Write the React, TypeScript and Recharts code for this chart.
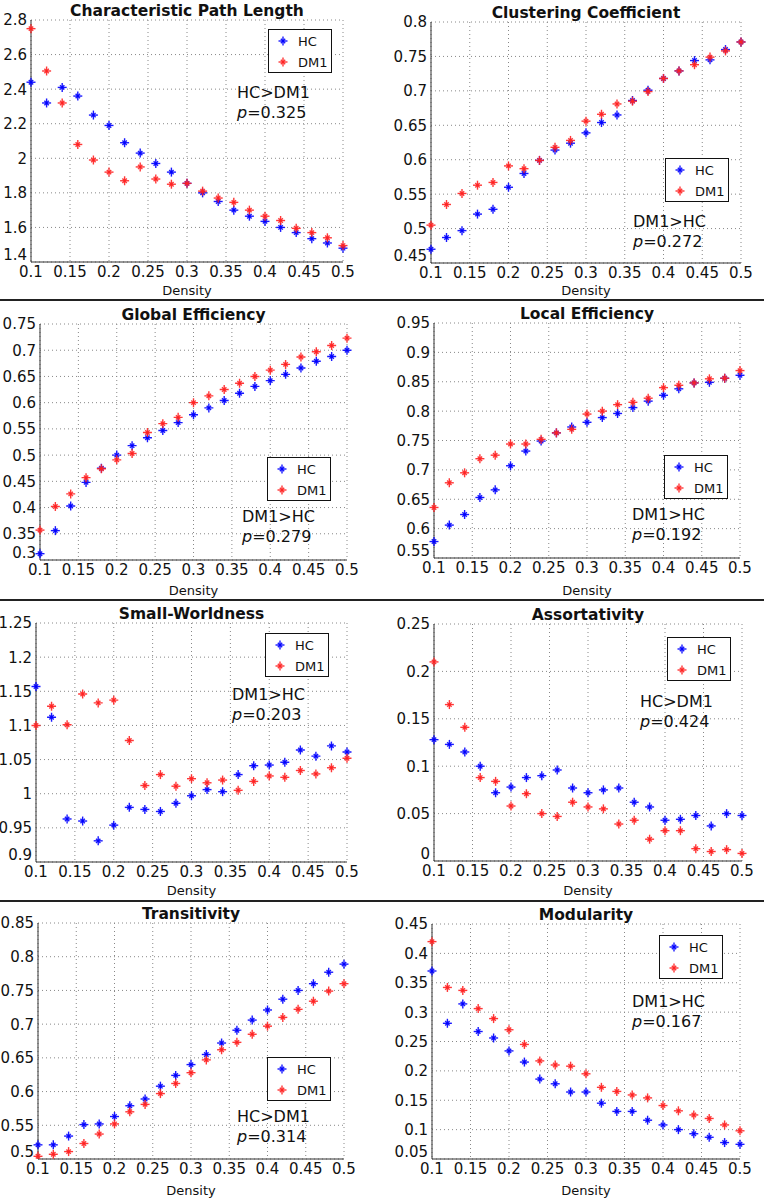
import React from 'react';
import { ScatterChart, Scatter, XAxis, YAxis, CartesianGrid, Legend } from 'recharts';

const density = [0.1, 0.12, 0.14, 0.16, 0.18, 0.2, 0.22, 0.24, 0.26, 0.28, 0.3, 0.32, 0.34, 0.36, 0.38, 0.4, 0.42, 0.44, 0.46, 0.48, 0.5];
const densityTicks = [0.1, 0.15, 0.2, 0.25, 0.3, 0.35, 0.4, 0.45, 0.5];

// Characteristic Path Length
const cplHC = [2.44, 2.32, 2.41, 2.36, 2.25, 2.19, 2.09, 2.03, 1.97, 1.92, 1.855, 1.8, 1.75, 1.7, 1.665, 1.635, 1.6, 1.57, 1.535, 1.51, 1.48];
const cplDM1 = [2.75, 2.505, 2.32, 2.08, 1.99, 1.92, 1.87, 1.95, 1.88, 1.85, 1.855, 1.81, 1.77, 1.745, 1.7, 1.665, 1.64, 1.595, 1.57, 1.54, 1.495];
const cplTicks = [1.4, 1.6, 1.8, 2, 2.2, 2.4, 2.6, 2.8];

// Clustering Coefficient
const ccHC = [0.47, 0.487, 0.497, 0.521, 0.528, 0.56, 0.58, 0.599, 0.614, 0.624, 0.639, 0.654, 0.665, 0.686, 0.701, 0.718, 0.729, 0.744, 0.745, 0.76, 0.771];
const ccDM1 = [0.505, 0.535, 0.551, 0.563, 0.567, 0.591, 0.587, 0.599, 0.618, 0.628, 0.656, 0.666, 0.681, 0.685, 0.699, 0.718, 0.729, 0.738, 0.749, 0.758, 0.771];
const ccTicks = [0.45, 0.5, 0.55, 0.6, 0.65, 0.7, 0.75, 0.8];

// Global Efficiency
const geHC = [0.312, 0.356, 0.403, 0.448, 0.475, 0.5, 0.518, 0.533, 0.547, 0.562, 0.577, 0.59, 0.604, 0.618, 0.631, 0.642, 0.654, 0.666, 0.679, 0.688, 0.7];
const geDM1 = [0.357, 0.402, 0.426, 0.457, 0.474, 0.491, 0.503, 0.543, 0.56, 0.572, 0.6, 0.613, 0.625, 0.637, 0.65, 0.662, 0.673, 0.687, 0.697, 0.709, 0.723];
const geTicks = [0.3, 0.35, 0.4, 0.45, 0.5, 0.55, 0.6, 0.65, 0.7, 0.75];

// Local Efficiency
const leHC = [0.578, 0.606, 0.624, 0.653, 0.666, 0.707, 0.732, 0.749, 0.763, 0.773, 0.781, 0.789, 0.796, 0.806, 0.817, 0.827, 0.838, 0.848, 0.849, 0.856, 0.861];
const leDM1 = [0.636, 0.678, 0.695, 0.719, 0.725, 0.744, 0.744, 0.752, 0.763, 0.769, 0.795, 0.8, 0.811, 0.815, 0.822, 0.84, 0.844, 0.848, 0.855, 0.856, 0.869];
const leTicks = [0.55, 0.6, 0.65, 0.7, 0.75, 0.8, 0.85, 0.9, 0.95];

// Small-Worldness
const swHC = [1.157, 1.112, 0.963, 0.96, 0.931, 0.954, 0.98, 0.977, 0.974, 0.986, 0.997, 1.006, 1.003, 1.028, 1.041, 1.042, 1.046, 1.064, 1.055, 1.07, 1.061];
const swDM1 = [1.1, 1.128, 1.101, 1.146, 1.133, 1.137, 1.078, 1.012, 1.028, 1.011, 1.022, 1.016, 1.02, 1.005, 1.018, 1.026, 1.024, 1.034, 1.029, 1.038, 1.052];
const swTicks = [0.9, 0.95, 1, 1.05, 1.1, 1.15, 1.2, 1.25];

// Assortativity
const asHC = [0.128, 0.123, 0.115, 0.1, 0.072, 0.078, 0.088, 0.09, 0.096, 0.077, 0.072, 0.075, 0.077, 0.062, 0.057, 0.043, 0.044, 0.048, 0.037, 0.05, 0.048];
const asDM1 = [0.21, 0.165, 0.141, 0.088, 0.084, 0.058, 0.071, 0.05, 0.047, 0.062, 0.057, 0.055, 0.039, 0.043, 0.023, 0.032, 0.032, 0.013, 0.01, 0.012, 0.008];
const asTicks = [0, 0.05, 0.1, 0.15, 0.2, 0.25];

// Transitivity
const trHC = [0.521, 0.521, 0.534, 0.551, 0.552, 0.563, 0.579, 0.589, 0.608, 0.624, 0.64, 0.655, 0.672, 0.691, 0.706, 0.721, 0.737, 0.75, 0.76, 0.777, 0.789];
const trDM1 = [0.504, 0.507, 0.511, 0.523, 0.537, 0.552, 0.57, 0.581, 0.597, 0.612, 0.628, 0.647, 0.662, 0.673, 0.685, 0.697, 0.71, 0.722, 0.734, 0.749, 0.76];
const trTicks = [0.5, 0.55, 0.6, 0.65, 0.7, 0.75, 0.8, 0.85];

// Modularity
const modHC = [0.37, 0.281, 0.314, 0.267, 0.256, 0.234, 0.215, 0.186, 0.178, 0.164, 0.164, 0.145, 0.131, 0.131, 0.116, 0.108, 0.1, 0.093, 0.087, 0.078, 0.075];
const modDM1 = [0.42, 0.342, 0.337, 0.306, 0.289, 0.27, 0.245, 0.217, 0.21, 0.208, 0.195, 0.172, 0.165, 0.159, 0.154, 0.141, 0.132, 0.125, 0.119, 0.108, 0.098];
const modTicks = [0.05, 0.1, 0.15, 0.2, 0.25, 0.3, 0.35, 0.4, 0.45];

const seriesNames = ['HC', 'DM1'];

const panels = [
  { title: 'Characteristic Path Length', hc: cplHC, dm1: cplDM1, ticks: cplTicks, result: 'HC>DM1', p: '0.325', box: { l: 31, r: 343, t: 20, b: 262 }, legend: { x: 268, y: 29 }, note: { x: 237, y: 98 } },
  { title: 'Clustering Coefficient', hc: ccHC, dm1: ccDM1, ticks: ccTicks, result: 'DM1>HC', p: '0.272', box: { l: 431, r: 741, t: 22, b: 263 }, legend: { x: 665, y: 158 }, note: { x: 633, y: 227 } },
  { title: 'Global Efficiency', hc: geHC, dm1: geDM1, ticks: geTicks, result: 'DM1>HC', p: '0.279', box: { l: 40, r: 347, t: 324, b: 560 }, legend: { x: 267, y: 457 }, note: { x: 242, y: 522 } },
  { title: 'Local Efficiency', hc: leHC, dm1: leDM1, ticks: leTicks, result: 'DM1>HC', p: '0.192', box: { l: 434, r: 740, t: 323, b: 558 }, legend: { x: 664, y: 455 }, note: { x: 632, y: 520 } },
  { title: 'Small-Worldness', hc: swHC, dm1: swDM1, ticks: swTicks, result: 'DM1>HC', p: '0.203', box: { l: 36, r: 347, t: 623, b: 862 }, legend: { x: 265, y: 633 }, note: { x: 232, y: 700 } },
  { title: 'Assortativity', hc: asHC, dm1: asDM1, ticks: asTicks, result: 'HC>DM1', p: '0.424', box: { l: 434, r: 742, t: 624, b: 861 }, legend: { x: 667, y: 637 }, note: { x: 640, y: 707 } },
  { title: 'Transitivity', hc: trHC, dm1: trDM1, ticks: trTicks, result: 'HC>DM1', p: '0.314', box: { l: 38, r: 344, t: 923, b: 1159 }, legend: { x: 267, y: 1057 }, note: { x: 237, y: 1122 } },
  { title: 'Modularity', hc: modHC, dm1: modDM1, ticks: modTicks, result: 'DM1>HC', p: '0.167', box: { l: 432, r: 740, t: 924, b: 1159 }, legend: { x: 659, y: 935 }, note: { x: 632, y: 1007 } },
];

const BLUE = '#0000ff';
const RED = '#ff2222';
const FONT = '"DejaVu Sans", sans-serif';

const Star = (props: any) => {
  const { cx, cy, fill } = props;
  if (cx == null || cy == null) return null;
  return (
    <g stroke={fill} strokeWidth={1.4} strokeOpacity={0.9}>
      <line x1={cx - 4.5} y1={cy} x2={cx + 4.5} y2={cy} />
      <line x1={cx} y1={cy - 4.5} x2={cx} y2={cy + 4.5} />
      <line x1={cx - 2.2} y1={cy - 2.2} x2={cx + 2.2} y2={cy + 2.2} />
      <line x1={cx - 2.2} y1={cy + 2.2} x2={cx + 2.2} y2={cy - 2.2} />
    </g>
  );
};

const LegendBox = (props: any) => {
  const items = [...(props.payload || [])].sort(
    (a: any, b: any) => seriesNames.indexOf(a.value) - seriesNames.indexOf(b.value)
  );
  return (
    <div style={{ width: 62, height: 42, border: '1px solid #111', background: '#fff', fontFamily: FONT, fontSize: 13 }}>
      {items.map((it: any, i: number) => (
        <div key={it.value} style={{ position: 'absolute', left: 0, top: i === 0 ? 4 : 25, height: 16, display: 'flex', alignItems: 'center' }}>
          <svg width={30} height={16}>
            <Star cx={15} cy={8} fill={it.color} />
          </svg>
          <span style={{ color: '#111' }}>{it.value}</span>
        </div>
      ))}
    </div>
  );
};

// y tick label; the lowest one is lifted a little so it clears the first x label
const YTick = (props: any) => {
  const { x, y, payload, lowest } = props;
  const lift = payload.value === lowest ? -7 : 0;
  return (
    <text x={x} y={y + lift} dy="0.36em" textAnchor="end" fill="#111" fontSize={15} fontFamily={FONT}>
      {payload.value}
    </text>
  );
};

const Panel = ({ cfg, index }: { cfg: any; index: number }) => {
  const x0 = (index % 2) * 382;
  const y0 = Math.floor(index / 2) * 300;
  const { box } = cfg;
  const hcData = density.map((d, i) => ({ x: d, y: cfg.hc[i] }));
  const dmData = density.map((d, i) => ({ x: d, y: cfg.dm1[i] }));
  const tickStyle = { fill: '#111', fontSize: 15, fontFamily: FONT };
  return (
    <div style={{ position: 'absolute', left: x0, top: y0 }}>
      <ScatterChart
        width={382}
        height={300}
        margin={{ top: box.t - y0, right: x0 + 382 - box.r, left: 0, bottom: 0 }}
      >
        <CartesianGrid stroke="#888" strokeDasharray="1 3" />
        <XAxis
          type="number"
          dataKey="x"
          domain={[0.1, 0.5]}
          ticks={densityTicks}
          height={y0 + 300 - box.b}
          tickLine={false}
          tickSize={0}
          tickMargin={4}
          tick={tickStyle}
          axisLine={{ stroke: '#333' }}
          interval={0}
          label={{ value: 'Density', position: 'insideBottom', offset: 5, style: { fill: '#111', fontSize: 13, fontFamily: FONT } }}
        />
        <XAxis xAxisId="top" orientation="top" type="number" domain={[0.1, 0.5]} height={0} tick={false} tickLine={false} axisLine={{ stroke: '#333' }} />
        <YAxis
          type="number"
          dataKey="y"
          domain={[cfg.ticks[0], cfg.ticks[cfg.ticks.length - 1]]}
          ticks={cfg.ticks}
          allowDataOverflow
          width={box.l - x0}
          tickLine={false}
          tickSize={0}
          tickMargin={4}
          tick={<YTick lowest={cfg.ticks[0]} />}
          axisLine={{ stroke: '#333' }}
          interval={0}
        />
        <YAxis yAxisId="right" orientation="right" type="number" domain={[0, 1]} width={0} tick={false} tickLine={false} axisLine={{ stroke: '#333' }} />
        <Legend
          layout="vertical"
          align="center"
          verticalAlign="middle"
          content={<LegendBox />}
          wrapperStyle={{ left: cfg.legend.x - x0, top: cfg.legend.y - y0, width: 64, height: 44 }}
        />
        <Scatter name="HC" data={hcData} fill={BLUE} shape={<Star />} isAnimationActive={false} />
        <Scatter name="DM1" data={dmData} fill={RED} shape={<Star />} isAnimationActive={false} />
      </ScatterChart>
    </div>
  );
};

export default function App() {
  return (
    <div style={{ position: 'absolute', left: 0, top: 0, width: 764, height: 1200, background: '#fff', overflow: 'hidden' }}>
      {panels.map((p, i) => (
        <Panel key={p.title} cfg={p} index={i} />
      ))}
      <svg width={764} height={1200} style={{ position: 'absolute', left: 0, top: 0, pointerEvents: 'none' }} fontFamily={FONT}>
        {[300, 600, 901].map((y) => (
          <line key={y} x1={0} x2={764} y1={y} y2={y} stroke="#222" strokeWidth={2} />
        ))}
        {panels.map((p) => (
          <g key={p.title}>
            <text x={(p.box.l + p.box.r) / 2} y={p.box.t - 4} textAnchor="middle" fontSize={15.5} fontWeight="bold" fill="#111">
              {p.title}
            </text>
            <text x={p.note.x} y={p.note.y} fontSize={16} fill="#111">{p.result}</text>
            <text x={p.note.x} y={p.note.y + 20} fontSize={16} fill="#111">
              <tspan fontStyle="italic">p</tspan>={p.p}
            </text>
          </g>
        ))}
      </svg>
    </div>
  );
}
